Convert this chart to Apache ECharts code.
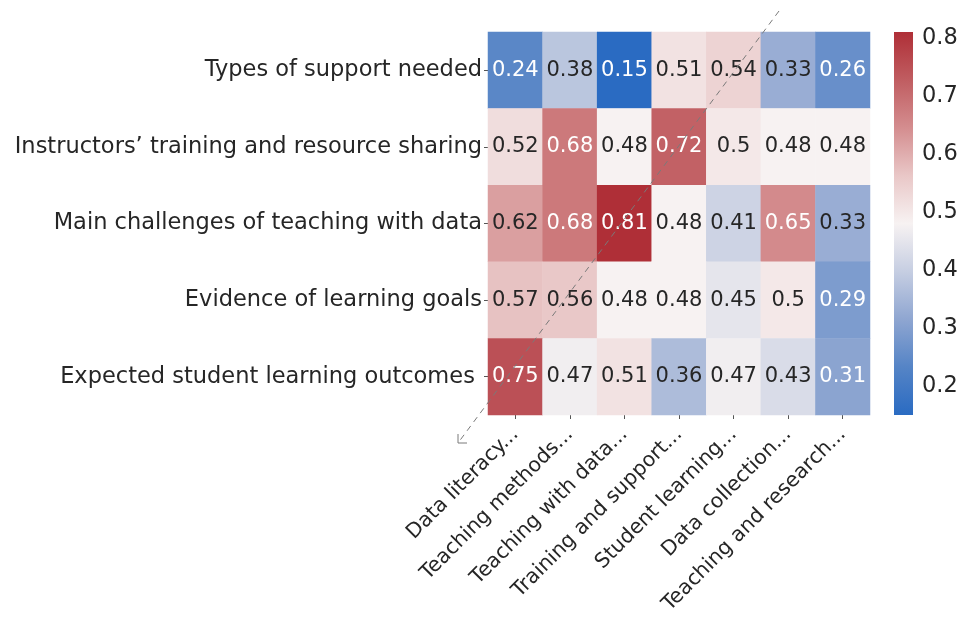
<!DOCTYPE html>
<html>
<head>
<meta charset="utf-8">
<script src="https://cdn.jsdelivr.net/npm/echarts@6/dist/echarts.min.js"></script>
<style>html,body{margin:0;padding:0;background:#fff;}#main{width:968px;height:623px;}</style>
</head>
<body>
<div id="main"></div>
<script>
const xCategories = ['Data literacy...', 'Teaching methods...', 'Teaching with data...', 'Training and support...', 'Student learning...', 'Data collection...', 'Teaching and research...'];
const yCategories = ['Types of support needed', 'Instructors\u2019 training and resource sharing', 'Main challenges of teaching with data', 'Evidence of learning goals', 'Expected student learning outcomes '];
const rowTypes = [0.24, 0.38, 0.15, 0.51, 0.54, 0.33, 0.26];
const rowInstructors = [0.52, 0.68, 0.48, 0.72, 0.5, 0.48, 0.48];
const rowChallenges = [0.62, 0.68, 0.81, 0.48, 0.41, 0.65, 0.33];
const rowEvidence = [0.57, 0.56, 0.48, 0.48, 0.45, 0.5, 0.29];
const rowOutcomes = [0.75, 0.47, 0.51, 0.36, 0.47, 0.43, 0.31];
const colorMin = 0.15;
const colorMax = 0.81;
const colorbarTicks = [0.2, 0.3, 0.4, 0.5, 0.6, 0.7, 0.8];

const rows = [rowTypes, rowInstructors, rowChallenges, rowEvidence, rowOutcomes];
const palette = ['#2a6bc2', '#5584c6', '#8fa6d1', '#c6cee2', '#f7f2f2', '#e9c7c7', '#d48d8f', '#c05d61', '#af2f37'];

const data = [];
rows.forEach((row, yi) => {
  row.forEach((v, xi) => {
    const light = v > 0.63 || v < 0.32;
    data.push({ value: [xi, yi, v], label: { color: light ? '#ffffff' : '#262626' } });
  });
});

const chart = echarts.init(document.getElementById('main'));
const font = 'DejaVu Sans';
chart.setOption({
  backgroundColor: '#ffffff',
  animation: false,
  textStyle: { fontFamily: font },
  grid: [
    { left: 488, top: 32, width: 382, height: 383 },
    { left: 894, top: 32, width: 19, height: 383 }
  ],
  xAxis: [
    {
      gridIndex: 0, type: 'category', data: xCategories,
      axisLine: { show: false },
      axisTick: { show: true, alignWithLabel: true, length: 4, lineStyle: { color: '#555' } },
      axisLabel: { rotate: 45, fontSize: 20.5, color: '#262626', fontFamily: font, margin: 16, interval: 0 },
      splitLine: { show: false }
    },
    { gridIndex: 1, type: 'value', min: 0, max: 1, show: false }
  ],
  yAxis: [
    {
      gridIndex: 0, type: 'category', data: yCategories, inverse: true,
      axisLine: { show: false },
      axisTick: { show: true, alignWithLabel: true, length: 4, lineStyle: { color: '#555' } },
      axisLabel: { fontSize: 22.5, color: '#262626', fontFamily: font, margin: 6, interval: 0 },
      splitLine: { show: false }
    },
    {
      gridIndex: 1, type: 'value', min: colorMin, max: colorMax, position: 'right',
      axisLine: { show: false },
      axisTick: { show: true, length: 4, customValues: colorbarTicks, lineStyle: { color: '#555' } },
      axisLabel: { fontSize: 22.5, color: '#262626', fontFamily: font, margin: 9, customValues: colorbarTicks, formatter: v => v.toFixed(1) },
      splitLine: { show: false }
    }
  ],
  visualMap: {
    show: false, min: colorMin, max: colorMax, dimension: 2, seriesIndex: 0,
    inRange: { color: palette }
  },
  series: [
    {
      type: 'heatmap', xAxisIndex: 0, yAxisIndex: 0, data: data,
      label: { show: true, fontSize: 21, fontFamily: font, formatter: p => String(p.value[2]) },
      itemStyle: { borderWidth: 0 },
      emphasis: { disabled: true }
    },
    {
      type: 'custom', xAxisIndex: 1, yAxisIndex: 1,
      data: [[0, colorMin, colorMax]],
      renderItem: function (params, api) {
        const p1 = api.coord([0, api.value(1)]);
        const p2 = api.coord([1, api.value(2)]);
        const stops = palette.slice().reverse().map((c, i, a) => ({ offset: i / (a.length - 1), color: c }));
        return {
          type: 'rect',
          shape: { x: p1[0], y: p2[1], width: p2[0] - p1[0], height: p1[1] - p2[1] },
          style: { fill: new echarts.graphic.LinearGradient(0, 0, 0, 1, stops) }
        };
      }
    }
  ],
  graphic: [
    {
      type: 'polyline', z: 100,
      shape: { points: [[779, 11], [458, 443]] },
      style: { stroke: '#7a7a7a', lineWidth: 1, lineDash: [6, 5], fill: null }
    },
    {
      type: 'polyline', z: 100,
      shape: { points: [[458, 434], [458, 443], [467, 443]] },
      style: { stroke: '#7a7a7a', lineWidth: 1, fill: null }
    }
  ]
});
</script>
</body>
</html>
